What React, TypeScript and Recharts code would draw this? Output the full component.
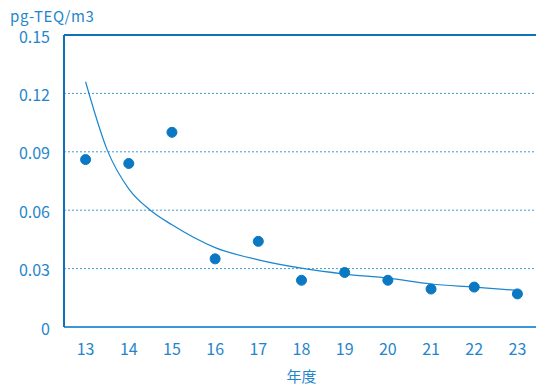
import { ComposedChart, Line, XAxis, YAxis, CartesianGrid, ReferenceLine } from "recharts";

const years = [13, 14, 15, 16, 17, 18, 19, 20, 21, 22, 23];
const measured = [0.086, 0.084, 0.1, 0.035, 0.044, 0.024, 0.028, 0.024, 0.0195, 0.0205, 0.017];
// trend curve, with two extra readings where it bends most
const trendYears = [13, 13.5, 14, 14.5, 15, 16, 17, 18, 19, 20, 21, 22, 23];
const trendValues = [0.126, 0.091, 0.071, 0.06, 0.0525, 0.0408, 0.0345, 0.0302, 0.0272, 0.0251, 0.0221, 0.0205, 0.0188];
const yTicks = [0, 0.03, 0.06, 0.09, 0.12, 0.15];
const edgeTicks = [13.5, 14.5, 15.5, 16.5, 17.5, 18.5, 19.5, 20.5, 21.5, 22.5];

const points = years.map((year, i) => ({ year, value: measured[i] }));
const trend = trendYears.map((year, i) => ({ year, value: trendValues[i] }));

const blue = "#0a78c2";
const textBlue = "#1f86cc";
const font = "'Noto Sans CJK JP', 'Noto Sans', sans-serif";

export default function App() {
    return (
        <div style={{ position: "absolute", left: 0, top: 0, width: 536, height: 385, overflow: "hidden", background: "#fff", fontFamily: font }}>
            <div style={{ position: "absolute", left: 10, top: 9, fontSize: 15, color: textBlue, lineHeight: "14px", letterSpacing: 0.6 }}>
                pg-TEQ/m3
            </div>
            <ComposedChart
                width={545}
                height={385}
                margin={{ top: 35, right: 6, left: 0, bottom: 0 }}
            >
                <CartesianGrid
                    vertical={false}
                    stroke="#3d9ad8"
                    strokeDasharray="2 2"
                    strokeWidth={1}
                />
                <XAxis
                    xAxisId="yr"
                    dataKey="year"
                    type="number"
                    domain={[12.5, 23.5]}
                    ticks={years}
                    interval={0}
                    allowDataOverflow
                    height={58}
                    axisLine={{ stroke: "#3a96d4", strokeWidth: 2 }}
                    tickLine={false}
                    tick={{ fill: textBlue, fontSize: 16, fontFamily: font }}
                    tickMargin={11}
                    label={{ value: "年度", position: "insideBottom", offset: 3, fill: textBlue, fontSize: 15, fontFamily: font }}
                />
                <XAxis
                    xAxisId="edge"
                    type="number"
                    domain={[12.5, 23.5]}
                    ticks={edgeTicks}
                    interval={0}
                    allowDataOverflow
                    mirror
                    axisLine={false}
                    tick={() => <g />}
                    tickLine={{ stroke: "#3a96d4", strokeWidth: 1.5 }}
                    tickSize={5}
                />
                <YAxis
                    domain={[0, 0.15]}
                    ticks={yTicks}
                    width={64}
                    axisLine={{ stroke: "#1070b8", strokeWidth: 2 }}
                    tickLine={false}
                    tickMargin={8}
                    tick={{ fill: textBlue, fontSize: 16, fontFamily: font, dy: 2 }}
                    tickFormatter={(v: number) => (v === 0 ? "0" : v.toFixed(2))}
                />
                <ReferenceLine xAxisId="yr" y={0.15} stroke="#1070b8" strokeWidth={2} />
                <Line
                    xAxisId="yr"
                    data={trend}
                    type="monotone"
                    dataKey="value"
                    stroke="#1a86d0"
                    strokeWidth={1.2}
                    dot={false}
                    isAnimationActive={false}
                />
                <Line
                    xAxisId="yr"
                    data={points}
                    type="linear"
                    dataKey="value"
                    stroke="none"
                    dot={{ r: 5, fill: blue, stroke: blue, strokeWidth: 1 }}
                    isAnimationActive={false}
                />
            </ComposedChart>
        </div>
    );
}
